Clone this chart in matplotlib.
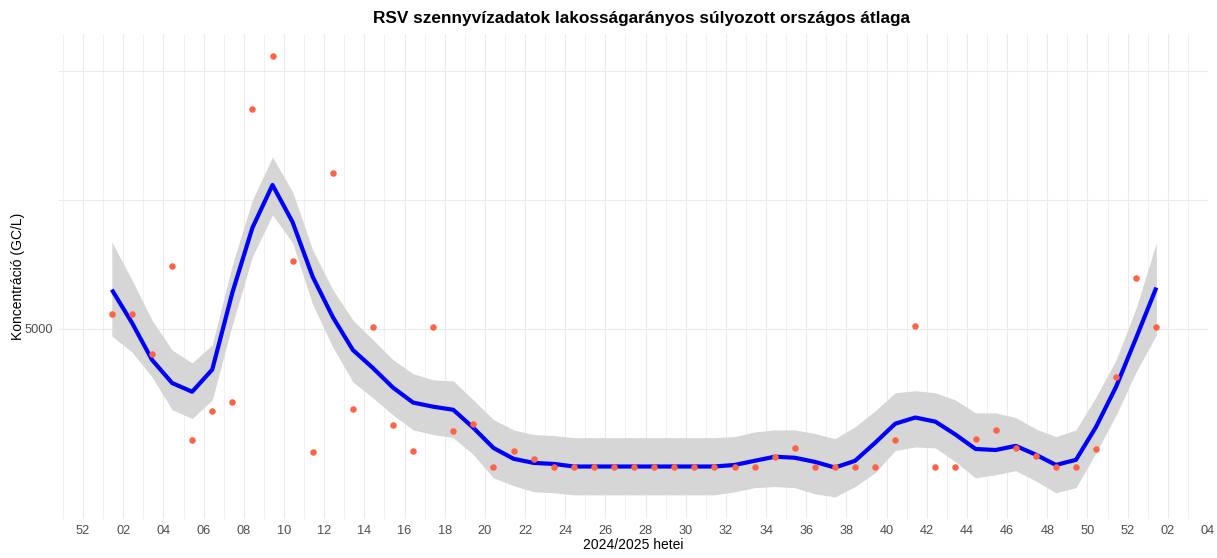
import matplotlib
matplotlib.use("Agg")
import matplotlib.pyplot as plt
import pandas as pd

plt.rcParams['font.family'] = ['Liberation Sans', 'DejaVu Sans']

# ---- data ----
sample_dates = pd.date_range("2024-01-04", periods=53, freq="7D")

concentration = [5290, 5290, 4520, 6220, 2850, 3410, 3590, 9260, 10290, 6320,
                 2620, 8020, 3450, 5040, 3140, 2640, 5040, 3020, 3160, 2330,
                 2640, 2480, 2330, 2330, 2330, 2330, 2330, 2330, 2330, 2330,
                 2330, 2330, 2330, 2520, 2690, 2330, 2330, 2330, 2330, 2850,
                 5060, 2330, 2330, 2870, 3040, 2690, 2540, 2330, 2330, 2670,
                 4070, 5990, 5040]

smooth_fit = [5760, 5120, 4400, 3950, 3780, 4210, 5700, 6960, 7790, 7070,
              6010, 5230, 4590, 4240, 3860, 3570, 3490, 3430, 3080, 2690,
              2480, 2400, 2380, 2330, 2330, 2330, 2330, 2330, 2330, 2330,
              2330, 2360, 2440, 2520, 2500, 2420, 2310, 2440, 2790, 3160,
              3280, 3200, 2950, 2670, 2650, 2730, 2560, 2360, 2460, 3100,
              3880, 4830, 5800]

band_upper = [6690, 5950, 5170, 4590, 4340, 4690, 6240, 7500, 8330, 7660,
              6530, 5760, 5170, 4790, 4400, 4130, 4010, 3990, 3620, 3240,
              3040, 2950, 2930, 2890, 2890, 2890, 2890, 2890, 2890, 2890,
              2890, 2910, 3000, 3040, 3040, 2970, 2870, 3100, 3410, 3760,
              3800, 3760, 3620, 3370, 3370, 3280, 3060, 2910, 3040, 3680,
              4400, 5410, 6670]

band_lower = [4860, 4550, 4070, 3430, 3260, 3620, 5080, 6400, 7210, 6670,
              5470, 4650, 3970, 3660, 3330, 3040, 2950, 2890, 2560, 2110,
              1960, 1840, 1820, 1780, 1780, 1780, 1780, 1780, 1780, 1780,
              1780, 1840, 1920, 1940, 1920, 1800, 1740, 1940, 2210, 2640,
              2710, 2690, 2420, 2110, 2170, 2250, 2050, 1820, 1920, 2600,
              3330, 4170, 4880]

major_ticks = pd.date_range("2023-12-25", "2025-01-20", freq="14D")
minor_ticks = pd.date_range("2023-12-18", "2025-01-27", freq="14D")
y_grid = [5000, 7500, 10000]
y_labels = ["5000", "", ""]

title = "RSV szennyvízadatok lakosságarányos súlyozott országos átlaga"
xlabel = "2024/2025 hetei"
ylabel = "Koncentráció (GC/L)"

# ---- figure ----
W, H = 1217, 558
fig = plt.figure(figsize=(W / 100, H / 100), dpi=100)
ax = fig.add_axes([59 / W, 1 - 519 / H, (1208 - 59) / W, (519 - 34) / H])

for d in minor_ticks:
    ax.axvline(d, color="#EBEBEB", lw=0.5, zorder=0)
for d in major_ticks:
    ax.axvline(d, color="#EBEBEB", lw=0.8, zorder=0)
for v in y_grid:
    ax.axhline(v, color="#EBEBEB", lw=0.8, zorder=0)

ax.fill_between(sample_dates, band_lower, band_upper, color="#D6D6D6", lw=0, zorder=1)
ax.plot(sample_dates, smooth_fit, color="#0000FF", lw=3, zorder=2,
        solid_joinstyle="round", solid_capstyle="butt")
ax.scatter(sample_dates, concentration, s=22, color="#FF6347", lw=0, zorder=3)

x0 = pd.Timestamp("2023-12-25")
ax.set_xlim(x0 - pd.Timedelta(days=8.4), x0 + pd.Timedelta(days=7 * 56.0))
ax.set_ylim(1312, 10718)

ax.set_xticks(major_ticks)
ax.set_xticklabels([d.strftime("%V") for d in major_ticks])
ax.set_yticks(y_grid)
ax.set_yticklabels(y_labels)
ax.tick_params(length=0, colors="#4D4D4D", labelsize=9.2, pad=4)
for s in ax.spines.values():
    s.set_visible(False)

ax.set_xlabel(xlabel, fontsize=10, color="black", labelpad=1)
ax.set_ylabel(ylabel, fontsize=10, color="black", labelpad=0)
fig.text(641 / W, 1 - 18 / H, title, ha="center", va="center",
         fontsize=12.4, fontweight="bold")

fig.savefig("out.png", dpi=100)
